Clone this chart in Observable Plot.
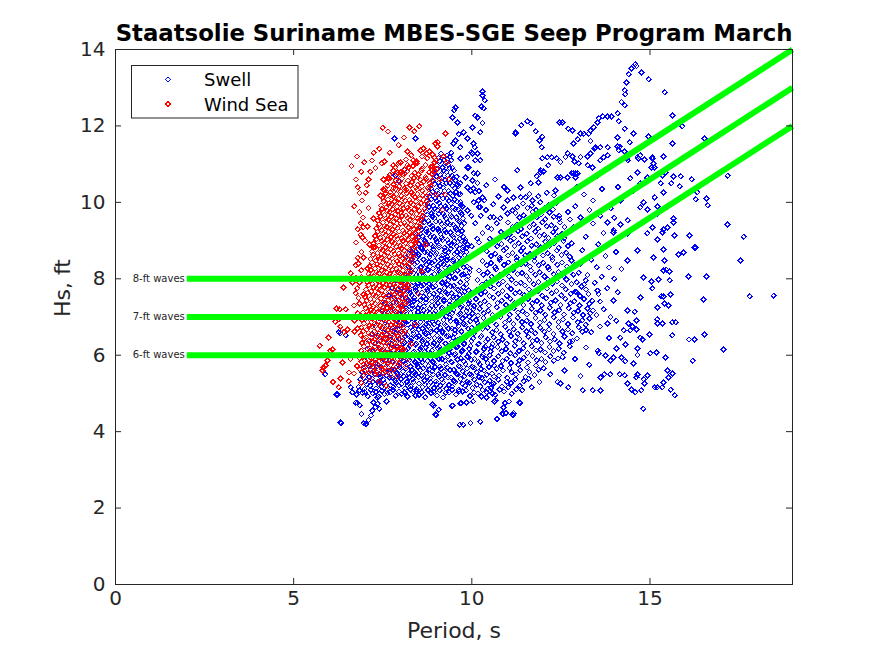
<!DOCTYPE html>
<html>
<head>
<meta charset="utf-8">
<script src="https://cdn.jsdelivr.net/npm/d3@7"></script>
<script src="https://cdn.jsdelivr.net/npm/@observablehq/plot@0.6"></script>
<style>
  html, body { margin: 0; padding: 0; background: #fff; }
  #chart { width: 875px; height: 656px; }
</style>
</head>
<body>
<div id="chart"></div>
<script>
// ---------------- data (period s, Hs ft) ----------------
const titleText = "Staatsolie Suriname MBES-SGE Seep Program March";
const xTicks = [0, 5, 10, 15];
const yTicks = [0, 2, 4, 6, 8, 10, 12, 14];

// threshold lines
const linePeriod = [2, 9, 19];
const line8 = [8, 8, 14];
const line7 = [7, 7, 13];
const line6 = [6, 6, 12];
const lineLabels = ["8-ft waves", "7-ft waves", "6-ft waves"];

// Swell: dense core near 7-10 s
const swellCore = [
[6.76,4.97],[6.93,5.02],[7.08,4.93],[7.22,5.0],[7.39,4.91],[7.55,4.98],[7.71,5.03],[7.86,4.94],[8.03,4.99],[8.2,4.92],[8.36,5.04],[8.52,4.96],[8.69,4.9],[8.85,5.01],[9.02,4.95],[9.19,4.89],[9.36,5.02],[9.55,4.97],[9.74,5.05],[9.95,4.93],[10.17,5.0],
[6.82,5.17],[6.99,5.12],[7.15,5.2],[7.31,5.13],[7.47,5.18],[7.63,5.1],[7.8,5.16],[7.96,5.21],[8.12,5.13],[8.29,5.19],[8.45,5.11],[8.62,5.17],[8.78,5.22],[8.94,5.14],[9.11,5.2],[9.28,5.12],[9.45,5.18],[9.63,5.1],[9.81,5.2],[10.02,5.14],[10.24,5.19],[10.45,5.12],
[6.87,5.37],[7.03,5.32],[7.2,5.39],[7.36,5.31],[7.52,5.36],[7.69,5.42],[7.85,5.33],[8.01,5.38],[8.18,5.3],[8.34,5.37],[8.5,5.43],[8.67,5.34],[8.83,5.39],[9.0,5.31],[9.16,5.37],[9.33,5.42],[9.5,5.33],[9.68,5.38],[9.87,5.3],[10.07,5.36],[10.28,5.41],[10.5,5.33],
[6.92,5.56],[7.09,5.52],[7.25,5.59],[7.41,5.5],[7.58,5.57],[7.74,5.62],[7.9,5.53],[8.07,5.58],[8.23,5.51],[8.4,5.56],[8.56,5.62],[8.72,5.53],[8.89,5.58],[9.06,5.5],[9.22,5.57],[9.39,5.61],[9.57,5.52],[9.75,5.58],[9.94,5.5],[10.14,5.56],[10.35,5.6],[10.57,5.52],
[6.97,5.76],[7.14,5.71],[7.3,5.79],[7.46,5.7],[7.63,5.77],[7.79,5.82],[7.95,5.73],[8.12,5.78],[8.28,5.7],[8.45,5.76],[8.61,5.81],[8.78,5.72],[8.94,5.78],[9.11,5.7],[9.28,5.76],[9.45,5.81],[9.63,5.72],[9.82,5.77],[10.01,5.7],[10.22,5.76],[10.44,5.8],[10.63,5.72],
[7.02,5.96],[7.18,5.91],[7.35,5.99],[7.51,5.9],[7.68,5.97],[7.84,6.02],[8.0,5.93],[8.17,5.98],[8.33,5.9],[8.5,5.96],[8.66,6.01],[8.83,5.92],[8.99,5.98],[9.16,5.9],[9.33,5.96],[9.51,6.01],[9.69,5.92],[9.88,5.97],[10.08,5.9],[10.29,5.96],[10.5,6.0],
[7.07,6.16],[7.23,6.11],[7.4,6.19],[7.56,6.1],[7.73,6.17],[7.89,6.22],[8.05,6.13],[8.22,6.18],[8.38,6.1],[8.55,6.16],[8.71,6.21],[8.88,6.12],[9.04,6.18],[9.21,6.1],[9.38,6.16],[9.56,6.21],[9.74,6.12],[9.93,6.17],[10.13,6.1],[10.34,6.16],[10.55,6.2],
[7.12,6.36],[7.29,6.31],[7.45,6.39],[7.62,6.3],[7.78,6.37],[7.95,6.42],[8.11,6.33],[8.28,6.38],[8.44,6.3],[8.61,6.36],[8.77,6.41],[8.94,6.32],[9.1,6.38],[9.27,6.3],[9.44,6.36],[9.62,6.41],[9.8,6.32],[9.99,6.37],[10.19,6.3],[10.4,6.36],
[7.2,6.56],[7.37,6.51],[7.53,6.59],[7.7,6.5],[7.86,6.57],[8.03,6.62],[8.19,6.53],[8.36,6.58],[8.52,6.5],[8.69,6.56],[8.85,6.61],[9.02,6.52],[9.18,6.58],[9.35,6.5],[9.52,6.56],[9.7,6.61],[9.88,6.52],[10.07,6.57],[10.27,6.5],
[7.3,6.76],[7.46,6.71],[7.63,6.79],[7.79,6.7],[7.96,6.77],[8.12,6.82],[8.29,6.73],[8.45,6.78],[8.62,6.7],[8.78,6.76],[8.95,6.81],[9.11,6.72],[9.28,6.78],[9.45,6.7],[9.63,6.76],[9.81,6.81],[10.0,6.72],[10.2,6.77],
[7.4,6.96],[7.56,6.91],[7.73,6.99],[7.89,6.9],[8.06,6.97],[8.22,7.02],[8.39,6.93],[8.55,6.98],[8.72,6.9],[8.88,6.96],[9.05,7.01],[9.21,6.92],[9.38,6.98],[9.56,6.9],[9.74,6.96],[9.93,7.01],[10.12,6.92],
[7.5,7.16],[7.66,7.11],[7.83,7.19],[7.99,7.1],[8.16,7.17],[8.32,7.22],[8.49,7.13],[8.65,7.18],[8.82,7.1],[8.98,7.16],[9.15,7.21],[9.32,7.12],[9.49,7.18],[9.67,7.1],[9.85,7.16],[10.04,7.2],
[7.56,7.36],[7.72,7.31],[7.89,7.39],[8.05,7.3],[8.22,7.37],[8.38,7.42],[8.55,7.33],[8.71,7.38],[8.88,7.3],[9.04,7.36],[9.21,7.41],[9.38,7.32],[9.55,7.38],[9.73,7.3],[9.92,7.36],
[7.66,7.56],[7.82,7.51],[7.99,7.59],[8.15,7.5],[8.32,7.57],[8.48,7.62],[8.65,7.53],[8.81,7.58],[8.98,7.5],[9.14,7.56],[9.31,7.61],[9.48,7.52],[9.66,7.58],[9.85,7.5],
[7.76,7.76],[7.92,7.71],[8.09,7.79],[8.25,7.7],[8.42,7.77],[8.58,7.82],[8.75,7.73],[8.91,7.78],[9.08,7.7],[9.24,7.76],[9.41,7.81],[9.58,7.72],[9.76,7.78],[9.92,7.7],
[7.86,7.96],[8.02,7.91],[8.19,7.99],[8.35,7.9],[8.52,7.97],[8.68,8.02],[8.85,7.93],[9.01,7.98],[9.18,7.9],[9.34,7.96],[9.51,8.01],[9.68,7.92],[9.86,7.98],
[7.96,8.16],[8.12,8.11],[8.29,8.19],[8.45,8.1],[8.62,8.17],[8.78,8.22],[8.95,8.13],[9.11,8.18],[9.28,8.1],[9.44,8.16],[9.61,8.21],[9.78,8.12],[9.93,8.18],
[8.06,8.36],[8.22,8.31],[8.39,8.39],[8.55,8.3],[8.72,8.37],[8.88,8.42],[9.05,8.33],[9.21,8.38],[9.38,8.3],[9.54,8.36],[9.71,8.41],[9.87,8.32],
[8.16,8.56],[8.32,8.51],[8.49,8.59],[8.65,8.5],[8.82,8.57],[8.98,8.62],[9.15,8.53],[9.31,8.58],[9.48,8.5],[9.64,8.56],[9.8,8.61],
[8.26,8.76],[8.42,8.71],[8.59,8.79],[8.75,8.7],[8.92,8.77],[9.08,8.82],[9.25,8.73],[9.41,8.78],[9.58,8.7],[9.74,8.76],[9.86,8.81],
[8.36,8.96],[8.52,8.91],[8.69,8.99],[8.85,8.9],[9.02,8.97],[9.18,9.02],[9.35,8.93],[9.51,8.98],[9.67,8.9],[9.81,8.96],
[8.46,9.16],[8.62,9.11],[8.79,9.19],[8.95,9.1],[9.12,9.17],[9.28,9.22],[9.45,9.13],[9.61,9.18],[9.76,9.1],
[8.56,9.36],[8.72,9.31],[8.89,9.39],[9.05,9.3],[9.22,9.37],[9.38,9.42],[9.55,9.33],[9.71,9.38],
[8.62,9.56],[8.78,9.51],[8.95,9.59],[9.11,9.5],[9.28,9.57],[9.44,9.62],[9.61,9.53],[9.75,9.58],
[8.71,9.76],[8.87,9.71],[9.04,9.79],[9.2,9.7],[9.37,9.77],[9.53,9.82],[9.69,9.73],
[8.76,9.96],[8.92,9.91],[9.09,9.99],[9.25,9.9],[9.42,9.97],[9.58,10.02],[9.7,9.93],
[8.81,10.16],[8.97,10.11],[9.14,10.19],[9.3,10.1],[9.47,10.17],[9.63,10.22],
[8.86,10.36],[9.02,10.31],[9.19,10.39],[9.35,10.3],[9.52,10.37],[9.62,10.42],
[8.91,10.56],[9.07,10.51],[9.24,10.59],[9.4,10.5],[9.54,10.57],
[8.96,10.76],[9.12,10.71],[9.29,10.79],[9.45,10.7],
[9.02,10.96],[9.18,10.91],[9.34,10.99],[9.46,10.9],
[9.07,11.16],[9.22,11.11],[9.38,11.19]
];

// Swell: second pass of the dense core (interleaved readings)
const swellCore2 = [
[6.84,5.08],[7.0,5.03],[7.16,5.1],[7.31,5.04],[7.47,5.07],[7.63,5.01],[7.79,5.09],[7.95,5.05],[8.11,5.02],[8.28,5.1],[8.44,5.06],[8.6,5.03],[8.77,5.09],[8.93,5.04],[9.1,5.08],[9.27,5.02],[9.45,5.1],[9.64,5.05],[9.84,5.08],[10.06,5.03],[10.3,5.09],
[6.9,5.28],[7.06,5.23],[7.22,5.3],[7.38,5.24],[7.55,5.27],[7.71,5.21],[7.87,5.29],[8.03,5.25],[8.2,5.22],[8.36,5.3],[8.52,5.26],[8.69,5.23],[8.85,5.29],[9.02,5.24],[9.19,5.28],[9.36,5.22],[9.54,5.3],[9.73,5.25],[9.93,5.28],[10.14,5.23],[10.36,5.29],[10.56,5.24],
[6.95,5.48],[7.11,5.43],[7.27,5.5],[7.43,5.44],[7.6,5.47],[7.76,5.41],[7.92,5.49],[8.09,5.45],[8.25,5.42],[8.42,5.5],[8.58,5.46],[8.75,5.43],[8.91,5.49],[9.08,5.44],[9.25,5.48],[9.42,5.42],[9.6,5.5],[9.79,5.45],[9.99,5.48],[10.2,5.43],[10.42,5.49],[10.62,5.44],
[7.0,5.68],[7.16,5.63],[7.33,5.7],[7.49,5.64],[7.66,5.67],[7.82,5.61],[7.98,5.69],[8.15,5.65],[8.31,5.62],[8.48,5.7],[8.64,5.66],[8.81,5.63],[8.97,5.69],[9.14,5.64],[9.31,5.68],[9.49,5.62],[9.67,5.7],[9.86,5.65],[10.06,5.68],[10.27,5.63],[10.48,5.69],[10.7,5.64],
[7.6,5.88],[7.76,5.83],[7.92,5.9],[8.09,5.84],[8.25,5.87],[8.42,5.81],[8.58,5.89],[8.75,5.85],[8.91,5.82],[9.08,5.9],[9.25,5.86],[9.42,5.83],[9.6,5.89],[9.78,5.84],[9.98,5.88],[10.19,5.82],[10.4,5.9],[10.62,5.85],
[7.7,6.08],[7.86,6.03],[8.02,6.1],[8.19,6.04],[8.35,6.07],[8.52,6.01],[8.68,6.09],[8.85,6.05],[9.02,6.02],[9.19,6.1],[9.36,6.06],[9.54,6.03],[9.72,6.09],[9.91,6.04],[10.11,6.08],[10.32,6.02],[10.53,6.1],
[7.75,6.28],[7.92,6.23],[8.08,6.3],[8.25,6.24],[8.41,6.27],[8.58,6.21],[8.74,6.29],[8.91,6.25],[9.08,6.22],[9.25,6.3],[9.42,6.26],[9.6,6.23],[9.78,6.29],[9.97,6.24],[10.17,6.28],[10.38,6.22],[10.58,6.3],
[7.8,6.48],[7.97,6.43],[8.13,6.5],[8.3,6.44],[8.46,6.47],[8.63,6.41],[8.8,6.49],[8.96,6.45],[9.13,6.42],[9.3,6.5],[9.48,6.46],[9.66,6.43],[9.85,6.49],[10.04,6.44],[10.24,6.48],[10.45,6.42],
[7.85,6.68],[8.02,6.63],[8.18,6.7],[8.35,6.64],[8.51,6.67],[8.68,6.61],[8.84,6.69],[9.01,6.65],[9.18,6.62],[9.35,6.7],[9.53,6.66],[9.71,6.63],[9.9,6.69],[10.1,6.64],[10.3,6.68],
[7.9,6.88],[8.06,6.83],[8.23,6.9],[8.39,6.84],[8.56,6.87],[8.72,6.81],[8.89,6.89],[9.06,6.85],[9.23,6.82],[9.4,6.9],[9.58,6.86],[9.77,6.83],[9.96,6.89],[10.16,6.84],
[7.95,7.08],[8.12,7.03],[8.28,7.1],[8.45,7.04],[8.61,7.07],[8.78,7.01],[8.94,7.09],[9.11,7.05],[9.28,7.02],[9.46,7.1],[9.64,7.06],[9.83,7.03],[10.02,7.09],[10.18,7.04],
[8.0,7.28],[8.16,7.23],[8.33,7.3],[8.49,7.24],[8.66,7.27],[8.82,7.21],[8.99,7.29],[9.16,7.25],[9.33,7.22],[9.51,7.3],[9.69,7.26],[9.88,7.23],[10.06,7.29],
[8.05,7.48],[8.22,7.43],[8.38,7.5],[8.55,7.44],[8.71,7.47],[8.88,7.41],[9.04,7.49],[9.21,7.45],[9.38,7.42],[9.56,7.5],[9.74,7.46],[9.93,7.43],
[8.1,7.68],[8.27,7.63],[8.43,7.7],[8.6,7.64],[8.76,7.67],[8.93,7.61],[9.1,7.69],[9.27,7.65],[9.44,7.62],[9.62,7.7],[9.8,7.66],[9.96,7.63],
[8.15,7.88],[8.32,7.83],[8.48,7.9],[8.65,7.84],[8.81,7.87],[8.98,7.81],[9.15,7.89],[9.32,7.85],[9.49,7.82],[9.67,7.9],[9.85,7.86],
[8.2,8.08],[8.37,8.03],[8.53,8.1],[8.7,8.04],[8.86,8.07],[9.03,8.01],[9.2,8.09],[9.37,8.05],[9.54,8.02],[9.72,8.1],[9.9,8.06],
[8.25,8.28],[8.42,8.23],[8.58,8.3],[8.75,8.24],[8.91,8.27],[9.08,8.21],[9.25,8.29],[9.42,8.25],[9.59,8.22],[9.77,8.3],[9.94,8.26],
[8.3,8.48],[8.47,8.43],[8.63,8.5],[8.8,8.44],[8.96,8.47],[9.13,8.41],[9.3,8.49],[9.47,8.45],[9.64,8.42],[9.82,8.5],
[8.35,8.68],[8.51,8.63],[8.68,8.7],[8.84,8.64],[9.01,8.67],[9.17,8.61],[9.34,8.69],[9.51,8.65],[9.68,8.62],[9.85,8.7],
[8.42,8.88],[8.58,8.83],[8.75,8.9],[8.91,8.84],[9.08,8.87],[9.24,8.81],[9.41,8.89],[9.58,8.85],[9.75,8.82],[9.88,8.9],
[8.5,9.08],[8.66,9.03],[8.83,9.1],[8.99,9.04],[9.16,9.07],[9.32,9.01],[9.49,9.09],[9.66,9.05],[9.82,9.02],
[8.58,9.28],[8.74,9.23],[8.91,9.3],[9.07,9.24],[9.24,9.27],[9.4,9.21],[9.57,9.29],[9.73,9.25],
[8.66,9.48],[8.82,9.43],[8.99,9.5],[9.15,9.44],[9.32,9.47],[9.48,9.41],[9.65,9.49],[9.79,9.45],
[8.74,9.68],[8.9,9.63],[9.07,9.7],[9.23,9.64],[9.4,9.67],[9.56,9.61],[9.72,9.69],
[8.8,9.88],[8.96,9.83],[9.13,9.9],[9.29,9.84],[9.46,9.87],[9.62,9.81],[9.74,9.89],
[8.86,10.08],[9.02,10.03],[9.19,10.1],[9.35,10.04],[9.52,10.07],[9.68,10.01],
[8.9,10.28],[9.06,10.23],[9.23,10.3],[9.39,10.24],[9.56,10.27],[9.68,10.21],
[8.95,10.48],[9.11,10.43],[9.28,10.5],[9.44,10.44],[9.6,10.47],
[9.0,10.68],[9.16,10.63],[9.33,10.7],[9.49,10.64],[9.58,10.67],
[9.05,10.88],[9.21,10.83],[9.37,10.9],[9.5,10.84],
[9.1,11.08],[9.26,11.03],[9.42,11.1],
[9.14,11.28],[9.3,11.23],[9.42,11.3]
];

// Swell: diagonal cloud 10-13.5 s
const swellCloud = [
[10.42,5.03],[10.66,4.97],[10.9,5.05],[11.12,4.99],
[10.62,5.25],[10.85,5.18],[11.1,5.27],[11.35,5.2],
[10.76,5.47],[11.0,5.41],[11.24,5.5],[11.5,5.43],[11.76,5.48],
[10.82,5.72],[11.06,5.66],[11.3,5.75],[11.55,5.68],[11.8,5.73],[12.02,5.66],
[10.74,5.97],[10.98,5.91],[11.22,6.0],[11.46,5.93],[11.7,5.98],[11.95,5.9],[12.2,5.97],[12.42,5.92],
[10.72,6.22],[10.96,6.16],[11.2,6.25],[11.44,6.18],[11.68,6.23],[11.93,6.15],[12.18,6.22],[12.44,6.17],[12.75,6.24],
[10.62,6.47],[10.86,6.41],[11.1,6.5],[11.34,6.43],[11.58,6.48],[11.83,6.4],[12.08,6.47],[12.33,6.42],[12.6,6.49],[12.95,6.44],
[10.45,6.72],[10.7,6.66],[10.94,6.75],[11.18,6.68],[11.42,6.73],[11.67,6.65],[11.92,6.72],[12.17,6.67],[12.43,6.74],[12.7,6.68],[13.0,6.73],[13.2,6.66],
[10.33,6.97],[10.57,6.91],[10.81,7.0],[11.05,6.93],[11.29,6.98],[11.54,6.9],[11.79,6.97],[12.04,6.92],[12.3,6.99],[12.56,6.93],[12.84,6.98],[13.1,6.91],[13.3,6.96],
[10.22,7.22],[10.46,7.16],[10.7,7.25],[10.94,7.18],[11.18,7.23],[11.43,7.15],[11.68,7.22],[11.93,7.17],[12.19,7.24],[12.45,7.18],[12.72,7.23],[12.98,7.16],[13.25,7.22],[13.4,7.17],
[10.12,7.47],[10.36,7.41],[10.6,7.5],[10.84,7.43],[11.08,7.48],[11.33,7.4],[11.58,7.47],[11.83,7.42],[12.09,7.49],[12.35,7.43],[12.62,7.48],[12.88,7.41],[13.15,7.47],[13.38,7.42],
[10.14,7.72],[10.38,7.66],[10.62,7.75],[10.86,7.68],[11.1,7.73],[11.35,7.65],[11.6,7.72],[11.85,7.67],[12.11,7.74],[12.37,7.68],[12.64,7.73],[12.9,7.66],[13.2,7.72],
[10.16,7.97],[10.4,7.91],[10.64,8.0],[10.88,7.93],[11.12,7.98],[11.37,7.9],[11.62,7.97],[11.87,7.92],[12.13,7.99],[12.39,7.93],[12.66,7.98],[12.95,7.91],[13.2,7.96],
[10.2,8.22],[10.44,8.16],[10.68,8.25],[10.92,8.18],[11.16,8.23],[11.41,8.15],[11.66,8.22],[11.91,8.17],[12.17,8.24],[12.43,8.18],[12.7,8.23],[13.0,8.16],
[10.3,8.47],[10.54,8.41],[10.78,8.5],[11.02,8.43],[11.26,8.48],[11.51,8.4],[11.76,8.47],[12.01,8.42],[12.27,8.49],[12.53,8.43],[12.8,8.48],
[10.42,8.72],[10.66,8.66],[10.9,8.75],[11.14,8.68],[11.38,8.73],[11.63,8.65],[11.88,8.72],[12.13,8.67],[12.39,8.74],[12.65,8.68],
[10.6,8.97],[10.84,8.91],[11.08,9.0],[11.32,8.93],[11.56,8.98],[11.81,8.9],[12.06,8.97],[12.31,8.92],[12.57,8.99],[12.8,8.93],
[10.82,9.22],[11.06,9.16],[11.3,9.25],[11.54,9.18],[11.78,9.23],[12.03,9.15],[12.28,9.22],[12.53,9.17],[12.7,9.24],
[11.02,9.47],[11.26,9.41],[11.5,9.5],[11.74,9.43],[11.98,9.48],[12.23,9.4],[12.48,9.47],
[11.22,9.72],[11.46,9.66],[11.7,9.75],[11.94,9.68],[12.18,9.73],[12.45,9.65],
[11.44,9.97],[11.68,9.91],[11.92,10.0],[12.16,9.93],[12.38,9.98],
[11.62,10.22],[11.86,10.16],[12.1,10.25],[12.3,10.18],
[12.6,5.6],[12.9,5.9],[13.2,6.2],[12.75,6.35],[13.05,5.45],[13.3,5.75],[12.4,5.3],[12.2,5.5],[11.9,5.3],[12.55,5.95]
];

// Swell: second pass of the cloud
const swellCloud2 = [
[10.54,5.14],[10.78,5.1],[11.02,5.16],[11.25,5.11],
[10.74,5.36],[10.98,5.31],[11.22,5.37],[11.46,5.32],[11.6,5.38],
[10.88,5.6],[11.12,5.55],[11.36,5.61],[11.62,5.56],[11.88,5.62],
[10.86,5.85],[11.1,5.8],[11.34,5.86],[11.58,5.81],[11.82,5.87],[12.07,5.82],[12.3,5.86],
[10.84,6.1],[11.08,6.05],[11.32,6.11],[11.56,6.06],[11.8,6.12],[12.05,6.07],[12.3,6.11],[12.58,6.06],
[10.74,6.35],[10.98,6.3],[11.22,6.36],[11.46,6.31],[11.7,6.37],[11.95,6.32],[12.2,6.36],[12.46,6.31],[12.82,6.37],
[10.57,6.6],[10.81,6.55],[11.05,6.61],[11.29,6.56],[11.53,6.62],[11.78,6.57],[12.03,6.61],[12.29,6.56],[12.55,6.62],[12.82,6.57],[13.1,6.61],
[10.45,6.85],[10.69,6.8],[10.93,6.86],[11.17,6.81],[11.41,6.87],[11.66,6.82],[11.91,6.86],[12.17,6.81],[12.43,6.87],[12.7,6.82],[12.97,6.86],[13.2,6.8],
[10.34,7.1],[10.58,7.05],[10.82,7.11],[11.06,7.06],[11.3,7.12],[11.55,7.07],[11.8,7.11],[12.06,7.06],[12.32,7.12],[12.59,7.07],[12.86,7.11],[13.12,7.05],[13.32,7.1],
[10.24,7.35],[10.48,7.3],[10.72,7.36],[10.96,7.31],[11.2,7.37],[11.45,7.32],[11.7,7.36],[11.96,7.31],[12.22,7.37],[12.49,7.32],[12.76,7.36],[13.02,7.3],[13.3,7.35],
[10.26,7.6],[10.5,7.55],[10.74,7.61],[10.98,7.56],[11.22,7.62],[11.47,7.57],[11.72,7.61],[11.98,7.56],[12.24,7.62],[12.51,7.57],[12.78,7.61],[13.04,7.55],[13.28,7.6],
[10.28,7.85],[10.52,7.8],[10.76,7.86],[11.0,7.81],[11.24,7.87],[11.49,7.82],[11.74,7.86],[12.0,7.81],[12.26,7.87],[12.53,7.82],[12.8,7.86],[13.08,7.8],
[10.32,8.1],[10.56,8.05],[10.8,8.11],[11.04,8.06],[11.28,8.12],[11.53,8.07],[11.78,8.11],[12.04,8.06],[12.3,8.12],[12.57,8.07],[12.85,8.11],
[10.42,8.35],[10.66,8.3],[10.9,8.36],[11.14,8.31],[11.38,8.37],[11.63,8.32],[11.88,8.36],[12.14,8.31],[12.4,8.37],[12.67,8.32],[12.9,8.36],
[10.54,8.6],[10.78,8.55],[11.02,8.61],[11.26,8.56],[11.5,8.62],[11.75,8.57],[12.0,8.61],[12.26,8.56],[12.52,8.62],[12.75,8.57],
[10.72,8.85],[10.96,8.8],[11.2,8.86],[11.44,8.81],[11.68,8.87],[11.93,8.82],[12.18,8.86],[12.44,8.81],[12.7,8.86],
[10.94,9.1],[11.18,9.05],[11.42,9.11],[11.66,9.06],[11.9,9.12],[12.15,9.07],[12.4,9.11],[12.6,9.06],
[11.14,9.35],[11.38,9.3],[11.62,9.36],[11.86,9.31],[12.1,9.37],[12.35,9.32],[12.6,9.36],
[11.34,9.6],[11.58,9.55],[11.82,9.61],[12.06,9.56],[12.3,9.62],[12.45,9.57],
[11.56,9.85],[11.8,9.8],[12.04,9.86],[12.28,9.81]
];

// Swell: medium-density fringe of the cloud
const swellFringe = [
[12.85,9.35],[13.05,9.6],[13.2,9.1],[13.4,9.45],[13.1,8.75],[13.35,8.5],[13.55,8.9],[13.7,9.2],[13.25,8.1],[13.5,8.3],[13.75,8.6],[13.9,8.95],[13.45,7.9],[13.65,8.05],[13.85,8.3],[14.05,8.7],[13.6,7.4],[13.8,7.75],[14.0,8.0],[14.2,8.25],[13.5,7.05],[13.7,7.2],[13.9,7.0],[14.1,7.65],[13.35,6.6],[13.6,6.75],[13.85,6.45],[14.05,6.9],[12.9,9.9],[13.15,10.2],[13.4,10.05],[13.65,10.35],[13.9,9.85],[14.1,10.4],[13.3,9.8],[12.95,10.4],[13.6,9.65],[14.0,9.6],[12.75,9.55],[13.05,8.4],[12.95,7.65],[13.15,7.85],[13.55,7.6],[12.7,9.75],
[10.0,8.85],[10.15,9.05],[10.3,9.2],[10.45,9.35],[10.1,9.45],[10.25,9.65],[10.4,9.8],[10.6,9.95],[9.98,9.65],[10.05,10.0],[10.35,10.05],[10.55,9.3],[10.7,9.45],[10.2,8.95],[10.5,9.05],[10.75,10.15],[10.9,10.4],[10.65,10.6],[10.4,10.45],[10.2,10.3]
];

// Swell: scattered points
const swellScatter = [
[6.34,4.23],[6.79,4.75],[6.86,4.69],[6.91,4.46],[6.97,4.22],[7.03,4.2],[7.1,4.3],[7.17,4.42],[7.21,4.55],[7.29,4.64],[7.36,4.73],[7.4,4.6],[7.61,4.79],[8.9,4.71],[9.0,4.44],[9.07,4.57],[9.44,4.68],[9.66,4.18],[9.76,4.18],[9.96,4.23],[10.24,4.26],[10.04,4.79],[9.71,4.75],[10.64,4.79],[10.71,4.33],[10.87,4.46],[10.97,4.49],[11.16,4.44],[10.93,4.75],[11.04,4.79],[11.36,4.75],[14.81,4.6],
[6.74,4.76],[6.2,4.97],[5.89,5.5],[7.24,4.76],[7.35,4.89],[8.42,4.95],[8.93,4.68],[8.98,4.45],[9.46,4.68],[9.68,4.74],[9.85,4.76],[10.27,4.92],[10.41,4.89],[10.58,5.0],[10.67,4.82],[10.89,4.63],[10.95,4.48],[11.17,4.48],
[6.26,6.6],[6.31,6.57],[6.46,6.52],[6.23,4.97],[6.31,4.24],[6.6,5.16],[6.65,5.03],
[17.63,9.1],[17.54,8.48],[18.47,7.56],[17.8,7.54],[16.5,7.46],[17.06,6.15],[16.2,5.86],[16.53,6.54],[16.1,6.41],[16.25,6.41],[16.59,8.06],[16.08,8.06],[16.25,8.82],[15.94,8.69],[15.8,8.64],[16.11,9.13],[15.69,9.13],[15.21,9.03],[15.38,8.77],[15.41,8.48],[15.46,8.24],[15.55,8.19],[15.55,7.96],[15.24,7.98],[15.04,7.93],[15.07,7.75],[15.32,7.54],[15.38,7.54],[15.58,7.59],[15.41,7.35],[15.52,7.3],[15.63,6.86],[15.72,6.86],[15.21,6.94],[15.35,6.83],[14.99,6.54],[15.63,6.52],[15.18,6.07],[15.44,5.94],[15.63,5.52],[15.52,5.42],[15.38,5.29],[15.35,5.16],[15.13,5.16],[15.21,5.16],[15.58,5.1],[15.69,4.95],[14.93,5.47],[14.82,5.37],[14.76,5.08],[14.59,5.03],[14.48,5.1],[14.85,5.26],[14.65,5.5],[14.62,5.42],[14.29,5.47],[14.15,5.5],[13.89,5.5],[13.72,5.5],[13.61,5.08],[13.39,5.08],[13.11,5.08],[12.71,5.16],[12.49,5.26],[11.68,5.16],[11.42,5.08],[11.34,4.76],[11.14,4.45],[10.86,4.48],[14.57,7.14],[14.62,6.91],[14.79,6.41],[14.65,6.18],[14.65,6.0],[14.4,6.83],[14.51,6.75],[14.62,6.67],[14.45,6.65],[14.17,6.46],[14.31,6.28],[14.06,6.18],[14.2,5.94],[14.31,5.84],[13.89,5.86],[13.75,5.99],[13.56,6.05],
[14.59,13.61],[14.62,13.57],[14.48,13.5],[14.4,13.35],[14.34,13.14],[14.29,12.93],[14.31,12.83],[14.2,12.62],[14.29,12.54],[14.76,13.4],[14.96,13.22],[15.41,12.88],[15.63,12.27],[15.91,11.99],[16.53,11.67],[17.18,10.7],[17.18,9.42],[16.62,9.92],[16.59,10.1],[16.33,10.26],[16.28,10.08],[16.17,10.6],[15.86,10.68],[15.83,10.42],[15.6,10.5],[15.63,11.54],[15.38,11.2],[14.96,11.72],[15.07,11.15],[14.68,11.15],[14.34,11.15],[14.54,11.8],[14.43,11.57],[14.09,11.7],[14.15,11.46],[14.29,11.93],[14.12,12.12],[14.09,12.33],[13.81,12.25],[13.92,12.25],[13.67,12.25],[13.56,12.2],[13.53,12.09],[13.42,11.96],[13.33,11.88],[13.28,11.8],[13.14,11.8],[13.05,11.8],[12.85,11.54],[12.97,11.65],[13.33,11.6],[13.47,11.44],[12.71,11.93],[12.83,11.88],[12.55,12.09],[12.46,12.09],[11.98,11.72],[11.9,11.62],[11.79,11.86],[11.56,12.12],[11.65,12.07],[11.39,12.02],[11.23,11.8],[11.96,11.44],[11.98,11.15],[12.24,11.18],[12.38,11.15],[12.63,11.18],[12.83,11.2],[12.88,11.07],[13.25,11.2],[13.44,11.41],[13.61,11.44],[13.81,11.44],[14.09,11.46],[13.0,11.02],[13.25,10.97],[13.39,10.91],[12.91,10.76],[12.15,10.97],[12.01,10.81],[11.93,10.78],[11.82,10.68],[11.87,10.52],[11.37,10.39],[11.51,10.13],[11.7,10.05],[11.17,10.13],[11.0,10.05],[11.28,9.87],[10.89,9.87],[12.35,10.31],[12.49,10.65],[12.69,10.65],[12.8,10.76],[12.91,10.65],[12.97,10.76],[13.61,11.1],[13.81,11.23],[14.12,11.36],[14.29,11.33],[14.65,11.18],[14.85,11.12],[15.07,11.18],[14.65,10.78],[14.45,10.63],[14.73,10.5],[14.93,10.63],[15.04,10.91],[15.13,10.91],[15.44,10.78],[15.35,10.7],[15.66,10.68],[15.86,10.68],[15.13,10.13],[15.38,10.26],[15.21,9.89],[14.93,9.81],[14.82,10.0],[15.49,9.89],[15.66,9.58],[15.66,9.47],[15.38,9.29],[15.35,9.21],[15.07,9.34],[15.21,9.03],[16.28,8.82],[14.57,9.34],[14.37,9.19],[14.17,9.42],[13.98,9.21],[13.81,9.47],
[10.3,12.9],[10.3,12.8],[10.36,12.67],[10.27,12.51],[10.33,12.46],[9.54,12.48],[9.51,12.41],[9.46,12.22],[9.6,12.09],[10.1,12.27],[10.16,12.22],[10.02,11.96],[10.3,12.07],[10.24,11.83],[9.77,11.83],[9.88,11.67],[9.63,11.78],[9.54,11.62],[9.49,11.54],[9.68,11.44],[10.05,11.54],[10.08,11.44],[9.99,11.31],[10.16,11.28],[9.88,11.18],[10.1,11.1],[9.88,10.91],[10.05,10.76],[10.02,10.57],[10.16,10.5],[9.96,10.31],[10.1,10.26],[9.82,10.65],[9.88,10.39],[10.24,9.87],[10.19,10.05],[10.61,9.61],[10.8,9.58],[11.0,9.71],[11.23,11.83],
[9.68,11.15],[10.02,11.28],[10.24,11.1],[9.91,10.91],[10.16,10.76],[9.68,10.5],[10.05,10.36],[10.3,10.13],[9.88,9.79],[10.19,9.87],[10.52,9.61],[11.0,10.31],[11.14,9.79],[11.37,10.13],[11.65,10.5],[11.28,10.84],[11.93,10.84],[12.12,11.18],[12.49,11.05],[12.69,11.28],[13.05,11.18],[13.33,11.28],[13.7,11.18],[13.84,10.89],[13.53,10.7],[12.85,10.76],[12.4,10.65],
[14.37,11.1],[14.73,11.23],[15.1,11.02],[15.38,11.18],[14.93,10.65],[15.3,10.5],[14.54,10.31],[14.17,10.05],[14.73,9.87],[15.21,9.71],[15.49,9.34],[14.93,9.19],[14.37,9.53],[13.98,9.27],[14.65,8.74],[15.1,8.56],[15.38,8.22],[14.82,8.03],[14.37,8.48],
[13.53,7.69],[13.98,7.43],[14.37,7.17],[14.73,7.51],[15.21,7.25],[13.81,6.83],[14.26,6.65],[14.73,6.46],[15.21,6.83],[13.53,6.12],[13.98,5.94],[14.54,5.78],[15.01,6.05],[15.49,5.6],[13.61,5.42],[14.37,5.26],
[7.83,11.67],[8.42,11.67],[7.85,10.7],[7.95,10.55],[8.1,10.85]
];

// Wind sea: dense core
const windCore = [
[6.55,5.32],[6.9,5.28],[7.15,5.35],[7.4,5.3],
[6.7,5.52],[6.95,5.47],[7.12,5.55],[7.3,5.5],[7.5,5.53],[7.72,5.48],
[6.78,5.72],[6.95,5.67],[7.1,5.75],[7.25,5.69],[7.4,5.73],[7.56,5.66],[7.72,5.74],[7.9,5.7],
[6.85,5.92],[7.0,5.87],[7.15,5.95],[7.3,5.89],[7.45,5.93],[7.6,5.86],[7.75,5.94],[7.92,5.9],[8.05,5.95],
[6.9,6.12],[7.05,6.07],[7.2,6.15],[7.35,6.09],[7.5,6.13],[7.65,6.06],[7.8,6.14],[7.95,6.1],[8.08,6.15],
[6.92,6.32],[7.07,6.27],[7.22,6.35],[7.37,6.29],[7.52,6.33],[7.67,6.26],[7.82,6.34],[7.97,6.3],
[6.88,6.52],[7.03,6.47],[7.18,6.55],[7.33,6.49],[7.48,6.53],[7.63,6.46],[7.78,6.54],[7.93,6.5],[8.08,6.55],
[6.9,6.72],[7.05,6.67],[7.2,6.75],[7.35,6.69],[7.5,6.73],[7.65,6.66],[7.8,6.74],[7.95,6.7],
[6.92,6.92],[7.07,6.87],[7.22,6.95],[7.37,6.89],[7.52,6.93],[7.67,6.86],[7.82,6.94],[7.97,6.9],[8.1,6.95],
[6.95,7.12],[7.1,7.07],[7.25,7.15],[7.4,7.09],[7.55,7.13],[7.7,7.06],[7.85,7.14],[8.0,7.1],
[6.98,7.32],[7.13,7.27],[7.28,7.35],[7.43,7.29],[7.58,7.33],[7.73,7.26],[7.88,7.34],[8.03,7.3],[8.15,7.36],
[7.0,7.52],[7.15,7.47],[7.3,7.55],[7.45,7.49],[7.6,7.53],[7.75,7.46],[7.9,7.54],[8.05,7.5],
[7.03,7.72],[7.18,7.67],[7.33,7.75],[7.48,7.69],[7.63,7.73],[7.78,7.66],[7.93,7.74],[8.08,7.7],[8.2,7.75],
[7.06,7.92],[7.21,7.87],[7.36,7.95],[7.51,7.89],[7.66,7.93],[7.81,7.86],[7.96,7.94],[8.11,7.9],
[7.1,8.12],[7.25,8.07],[7.4,8.15],[7.55,8.09],[7.7,8.13],[7.85,8.06],[8.0,8.14],[8.15,8.1],[8.28,8.15],
[7.13,8.32],[7.28,8.27],[7.43,8.35],[7.58,8.29],[7.73,8.33],[7.88,8.26],[8.03,8.34],[8.18,8.3],
[7.16,8.52],[7.31,8.47],[7.46,8.55],[7.61,8.49],[7.76,8.53],[7.91,8.46],[8.06,8.54],[8.21,8.5],[8.35,8.55],
[7.2,8.72],[7.35,8.67],[7.5,8.75],[7.65,8.69],[7.8,8.73],[7.95,8.66],[8.1,8.74],[8.25,8.7],
[7.24,8.92],[7.39,8.87],[7.54,8.95],[7.69,8.89],[7.84,8.93],[7.99,8.86],[8.14,8.94],[8.29,8.9],[8.42,8.95],
[7.28,9.12],[7.43,9.07],[7.58,9.15],[7.73,9.09],[7.88,9.13],[8.03,9.06],[8.18,9.14],[8.33,9.1],
[7.32,9.32],[7.47,9.27],[7.62,9.35],[7.77,9.29],[7.92,9.33],[8.07,9.26],[8.22,9.34],[8.37,9.3],[8.52,9.35],
[7.36,9.52],[7.51,9.47],[7.66,9.55],[7.81,9.49],[7.96,9.53],[8.11,9.46],[8.26,9.54],[8.41,9.5],[8.56,9.55],
[7.4,9.72],[7.55,9.67],[7.7,9.75],[7.85,9.69],[8.0,9.73],[8.15,9.66],[8.3,9.74],[8.45,9.7],[8.62,9.75],
[7.45,9.92],[7.6,9.87],[7.75,9.95],[7.9,9.89],[8.05,9.93],[8.2,9.86],[8.35,9.94],[8.5,9.9],[8.68,9.95],
[7.5,10.12],[7.65,10.07],[7.8,10.15],[7.95,10.09],[8.1,10.13],[8.25,10.06],[8.4,10.14],[8.55,10.1],[8.72,10.15],
[7.56,10.32],[7.71,10.27],[7.86,10.35],[8.01,10.29],[8.16,10.33],[8.31,10.26],[8.46,10.34],[8.61,10.3],[8.78,10.35],
[7.62,10.52],[7.8,10.47],[7.98,10.55],[8.15,10.49],[8.32,10.53],[8.48,10.46],[8.65,10.54],[8.82,10.5],
[7.7,10.72],[7.9,10.67],[8.1,10.75],[8.3,10.69],[8.5,10.73],[8.7,10.66],[8.88,10.74],
[7.85,10.92],[8.1,10.87],[8.35,10.95],[8.6,10.89],[8.85,10.93],[9.02,10.88],
[8.15,11.12],[8.45,11.07],[8.75,11.15],[9.0,11.1]
];

// Wind sea: second pass of the core
const windCore2 = [
[6.85,5.63],[7.0,5.58],[7.16,5.62],[7.32,5.57],[7.48,5.64],[7.64,5.59],[7.8,5.62],
[6.9,5.83],[7.05,5.78],[7.2,5.82],[7.35,5.77],[7.5,5.84],[7.65,5.79],[7.8,5.82],[7.97,5.78],
[6.95,6.03],[7.1,5.98],[7.25,6.02],[7.4,5.97],[7.55,6.04],[7.7,5.99],[7.85,6.02],[8.0,5.98],[8.12,6.03],
[6.98,6.23],[7.13,6.18],[7.28,6.22],[7.43,6.17],[7.58,6.24],[7.73,6.19],[7.88,6.22],[8.03,6.18],
[6.98,6.43],[7.13,6.38],[7.28,6.42],[7.43,6.37],[7.58,6.44],[7.73,6.39],[7.88,6.42],[8.03,6.38],
[6.95,6.63],[7.1,6.58],[7.25,6.62],[7.4,6.57],[7.55,6.64],[7.7,6.59],[7.85,6.62],[8.0,6.58],[8.12,6.63],
[6.98,6.83],[7.13,6.78],[7.28,6.82],[7.43,6.77],[7.58,6.84],[7.73,6.79],[7.88,6.82],[8.03,6.78],
[7.0,7.03],[7.15,6.98],[7.3,7.02],[7.45,6.97],[7.6,7.04],[7.75,6.99],[7.9,7.02],[8.05,6.98],[8.14,7.03],
[7.02,7.23],[7.17,7.18],[7.32,7.22],[7.47,7.17],[7.62,7.24],[7.77,7.19],[7.92,7.22],[8.07,7.18],
[7.05,7.43],[7.2,7.38],[7.35,7.42],[7.5,7.37],[7.65,7.44],[7.8,7.39],[7.95,7.42],[8.1,7.38],[8.18,7.43],
[7.08,7.63],[7.23,7.58],[7.38,7.62],[7.53,7.57],[7.68,7.64],[7.83,7.59],[7.98,7.62],[8.13,7.58],
[7.1,7.83],[7.25,7.78],[7.4,7.82],[7.55,7.77],[7.7,7.84],[7.85,7.79],[8.0,7.82],[8.15,7.78],[8.22,7.83],
[7.13,8.03],[7.28,7.98],[7.43,8.02],[7.58,7.97],[7.73,8.04],[7.88,7.99],[8.03,8.02],[8.18,7.98],[8.26,8.03],
[7.17,8.23],[7.32,8.18],[7.47,8.22],[7.62,8.17],[7.77,8.24],[7.92,8.19],[8.07,8.22],[8.22,8.18],[8.3,8.23],
[7.2,8.43],[7.35,8.38],[7.5,8.42],[7.65,8.37],[7.8,8.44],[7.95,8.39],[8.1,8.42],[8.25,8.38],[8.32,8.43],
[7.24,8.63],[7.39,8.58],[7.54,8.62],[7.69,8.57],[7.84,8.64],[7.99,8.59],[8.14,8.62],[8.29,8.58],[8.36,8.63],
[7.28,8.83],[7.43,8.78],[7.58,8.82],[7.73,8.77],[7.88,8.84],[8.03,8.79],[8.18,8.82],[8.33,8.78],[8.4,8.83],
[7.32,9.03],[7.47,8.98],[7.62,9.02],[7.77,8.97],[7.92,9.04],[8.07,8.99],[8.22,9.02],[8.37,8.98],[8.45,9.03],
[7.36,9.23],[7.51,9.18],[7.66,9.22],[7.81,9.17],[7.96,9.24],[8.11,9.19],[8.26,9.22],[8.41,9.18],[8.5,9.23],
[7.4,9.43],[7.55,9.38],[7.7,9.42],[7.85,9.37],[8.0,9.44],[8.15,9.39],[8.3,9.42],[8.45,9.38],[8.55,9.43],
[7.44,9.63],[7.59,9.58],[7.74,9.62],[7.89,9.57],[8.04,9.64],[8.19,9.59],[8.34,9.62],[8.49,9.58],[8.62,9.63],
[7.48,9.83],[7.63,9.78],[7.78,9.82],[7.93,9.77],[8.08,9.84],[8.23,9.79],[8.38,9.82],[8.53,9.78],[8.68,9.83],
[7.53,10.03],[7.68,9.98],[7.83,10.02],[7.98,9.97],[8.13,10.04],[8.28,9.99],[8.43,10.02],[8.58,9.98],[8.74,10.03],
[7.58,10.23],[7.73,10.18],[7.88,10.22],[8.03,10.17],[8.18,10.24],[8.33,10.19],[8.48,10.22],[8.63,10.18],[8.8,10.23],
[7.64,10.43],[7.8,10.38],[7.96,10.42],[8.12,10.37],[8.28,10.44],[8.44,10.39],[8.6,10.42],[8.76,10.38],[8.85,10.43],
[7.7,10.63],[7.87,10.58],[8.04,10.62],[8.21,10.57],[8.38,10.64],[8.55,10.59],[8.72,10.62],[8.9,10.58],
[7.8,10.83],[8.0,10.78],[8.2,10.82],[8.4,10.77],[8.6,10.84],[8.8,10.79],[8.97,10.82],
[7.95,11.03],[8.2,10.98],[8.45,11.02],[8.7,10.97],[8.95,11.04],
[8.3,11.23],[8.6,11.2],[8.9,11.25],
[6.75,8.95],[6.88,9.15],[6.8,8.55],[6.95,9.35],[6.85,9.75],[6.92,10.05],[7.02,10.25],[6.8,10.4],[7.1,10.6],[6.9,10.8],[7.3,10.9],[7.2,11.1],[6.78,11.2],[7.4,11.4],[7.7,11.3],[7.95,11.5],[8.1,11.7],[6.8,7.1],[6.7,7.3],[6.85,7.35],[6.65,7.9],[6.9,8.05]
];

// Wind sea: scattered points
const windScatter = [
[6.4,7.77],[6.74,7.62],[6.82,7.49],[6.2,7.22],[6.29,7.2],[5.98,6.46],[5.73,6.25],[6.09,6.15],[6.03,6.12],[5.95,5.86],[5.84,5.68],[5.81,5.6],[5.89,5.73],[6.31,5.39],[6.26,5.16],[6.37,5.81],[6.31,6.75],[6.4,6.6],[6.51,6.67],[6.26,6.94],[6.17,6.88],[6.46,7.2],[6.6,6.99],[6.71,6.91],[6.79,6.7],[6.71,6.62],[6.74,8.35],[6.82,8.4],[6.96,8.56],[6.9,8.22],[7.07,8.27],[6.6,8.14],[6.74,8.03],[6.79,7.75],[6.85,7.9],[6.96,7.59],
[8.25,11.96],[8.39,11.86],[8.53,11.99],[8.2,11.33],[8.0,11.04],[7.8,10.97],[7.55,11.07],[7.47,11.02],[7.52,10.6],[7.66,10.65],[7.52,10.34],[7.44,10.18],[7.91,10.78],[8.05,10.73],[8.22,10.91],[8.36,11.1],[8.56,11.36],[8.64,11.41],[8.73,11.28],[8.81,11.33],[8.98,11.54],[9.04,11.57],[9.26,11.8],[8.95,11.18],[8.9,10.94],[7.24,9.58],[7.07,9.37],[6.93,9.08],[7.13,8.9],[7.24,8.82],[9.04,11.46],
[6.62,10.95],[6.75,10.6],[6.85,10.25],[6.7,9.9],[6.95,9.6],[6.8,9.3],[7.0,9.0],[6.9,8.7],[7.05,10.45],[6.98,11.05],[7.15,10.8],[7.25,11.3],[7.1,9.85],[6.88,9.45],
[7.5,11.95],[7.65,11.85],[6.55,5.55],[6.1,5.3],[6.6,5.9],[7.6,5.2],[7.9,5.45],[8.15,5.7],[8.3,6.3],[8.4,6.8],[8.5,7.6],[8.6,8.2],[8.7,8.9],[9.0,10.2],[9.1,10.6],[8.2,5.9],
[9.2,11.2],[9.3,11.05],[9.25,10.2],[9.18,9.8],[9.35,10.6]
];

// ---------------- build tables ----------------
const toRows = arr => arr.map(([t, h]) => ({t, h}));
const swell = toRows([...swellCore, ...swellCore2, ...swellCloud, ...swellCloud2, ...swellFringe, ...swellScatter]);
const wind = toRows([...windCore, ...windCore2, ...windScatter]);
const lineRows = [];
[line8, line7, line6].forEach((vals, i) => {
  vals.forEach((h, j) => lineRows.push({label: lineLabels[i], t: linePeriod[j], h}));
});
const labelRows = lineLabels.map((label, i) => ({label, t: linePeriod[0], h: [line8, line7, line6][i][0]}));

// MATLAB-style square diamond marker
const diamond = {
  draw(context, size) {
    const r = Math.sqrt(size / Math.PI);
    context.moveTo(0, -r);
    context.lineTo(r, 0);
    context.lineTo(0, r);
    context.lineTo(-r, 0);
    context.closePath();
  }
};

const W = 875, H = 656;
const mL = 115, mR = 83, mT = 49, mB = 72;
const fw = W - mL - mR, fh = H - mT - mB;
const ink = "#262626";
const tick = 6;

const plot = Plot.plot({
  width: W, height: H,
  marginLeft: mL, marginRight: mR, marginTop: mT, marginBottom: mB,
  style: {fontFamily: "DejaVu Sans", background: "#ffffff", color: ink},
  x: {domain: [0, 19], axis: null},
  y: {domain: [0, 14], axis: null},
  marks: [
    Plot.dot(swell, {x: "t", y: "h", symbol: diamond, r: 2.5, stroke: "#0000ff", fill: "none", strokeWidth: 1, shapeRendering: "crispEdges"}),
    Plot.dot(wind, {x: "t", y: "h", symbol: diamond, r: 2.5, stroke: "#ff0000", fill: "none", strokeWidth: 1, shapeRendering: "crispEdges"}),
    Plot.line(lineRows, {x: "t", y: "h", z: "label", stroke: "#00ff00", strokeWidth: 6, strokeLinejoin: "miter", strokeLinecap: "butt"}),
    Plot.text(labelRows, {x: "t", y: "h", text: "label", textAnchor: "end", dx: -2, fontSize: 10, fill: ink}),
    // inner ticks (MATLAB box style)
    Plot.tickX(xTicks, {x: d => d, insetTop: fh - tick, stroke: ink}),
    Plot.tickX(xTicks, {x: d => d, insetBottom: fh - tick, stroke: ink}),
    Plot.tickY(yTicks, {y: d => d, insetRight: fw - tick, stroke: ink}),
    Plot.tickY(yTicks, {y: d => d, insetLeft: fw - tick, stroke: ink}),
    Plot.frame({stroke: ink, strokeWidth: 1}),
    // tick labels
    Plot.text(xTicks, {x: d => d, text: d => String(d), frameAnchor: "bottom", dy: 20, fontSize: 20, fill: ink}),
    Plot.text(yTicks, {y: d => d, text: d => String(d), frameAnchor: "left", dx: -10, textAnchor: "end", fontSize: 20, fill: ink}),
    // axis labels and title
    Plot.text(["Period, s"], {text: d => d, frameAnchor: "bottom", dy: 53, fontSize: 22, fill: ink}),
    Plot.text(["Hs, ft"], {text: d => d, frameAnchor: "left", dx: -53, rotate: -90, fontSize: 22, fill: ink}),
    Plot.text([titleText], {text: d => d, frameAnchor: "top", dy: -24.5, fontSize: 22.8, fontWeight: "bold", fill: "#000000"})
  ]
});

document.getElementById("chart").appendChild(plot);

// legend box (inside axes, top-left)
const svg = d3.select(plot);
const lg = svg.append("g");
lg.append("rect").attr("x", 131.5).attr("y", 65.5).attr("width", 166.5).attr("height", 52.5)
  .attr("fill", "#ffffff").attr("stroke", ink).attr("stroke-width", 1);
const legendItems = [{label: "Swell", color: "#0000ff", y: 79.5}, {label: "Wind Sea", color: "#ff0000", y: 104}];
legendItems.forEach(d => {
  lg.append("path").attr("d", "M0,-2.5L2.5,0L0,2.5L-2.5,0Z")
    .attr("transform", `translate(168,${d.y})`).attr("fill", "none").attr("stroke", d.color)
    .attr("stroke-width", 1).attr("shape-rendering", "crispEdges");
  lg.append("text").attr("x", 204).attr("y", d.y + 6.8)
    .style("font-size", "18px").style("font-family", "DejaVu Sans").style("text-anchor", "start")
    .attr("fill", "#000000").text(d.label);
});
</script>
</body>
</html>
